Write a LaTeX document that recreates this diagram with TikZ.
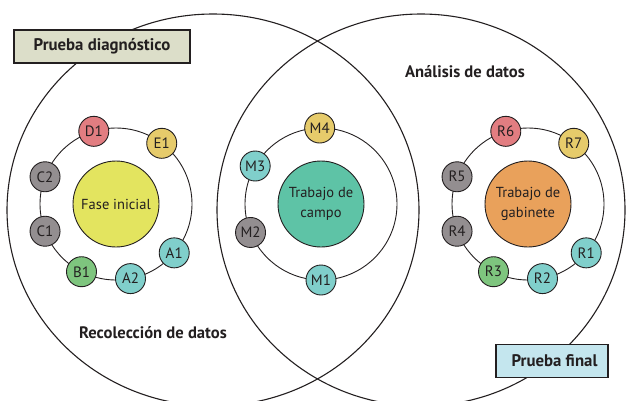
\documentclass[tikz,border=0pt]{standalone}
\usepackage{fontspec}
\setmainfont{PT Sans}
\usetikzlibrary{calc}
\definecolor{inkgray}{HTML}{231F20}
\definecolor{tagsage}{HTML}{DCDEC9}
\definecolor{tagsky}{HTML}{C4E6EE}
\definecolor{fillyellow}{HTML}{E3E45F}
\definecolor{fillteal}{HTML}{5EC3A6}
\definecolor{fillorange}{HTML}{E9A15B}
\definecolor{dotred}{HTML}{E27D81}
\definecolor{dotgold}{HTML}{E6CB6B}
\definecolor{dotgray}{HTML}{938E90}
\definecolor{dotgreen}{HTML}{7EC57E}
\definecolor{dotaqua}{HTML}{80CFCB}

\begin{document}
\begin{tikzpicture}[
    x=1pt, y=-1pt,
    every node/.style={text=inkgray},
    big_ring/.style={draw=inkgray, line width=1.1pt},
    orbit/.style={draw=inkgray, line width=0.9pt},
    stage/.style={circle, draw=inkgray, line width=0.9pt, minimum size=86pt, inner sep=0pt, align=center, font=\fontsize{14.5}{20}\selectfont},
    item/.style={circle, draw=inkgray, line width=0.9pt, minimum size=30pt, inner sep=0pt, font=\fontsize{15}{15}\selectfont},
    tag/.style={draw=inkgray, line width=1.3pt, inner sep=0pt, minimum height=33pt, font=\bfseries\fontsize{16.8}{17}\selectfont},
    title/.style={font=\bfseries\fontsize{16.6}{17}\selectfont}
]
\useasboundingbox (0,0) rectangle (626,400);

% the two overlapping phases
\draw[big_ring] (213,210) ellipse [x radius=206pt, y radius=196pt];
\draw[big_ring] (421,210) ellipse [x radius=204pt, y radius=196pt];

\coordinate (orbit_left) at (116,204);
\coordinate (orbit_mid) at (321,204);
\coordinate (orbit_right) at (528,204);
\draw[orbit] (orbit_left) circle (76pt);
\draw[orbit] (orbit_mid) circle (76pt);
\draw[orbit] (orbit_right) circle (76pt);

\node (fase_inicial) [stage, fill=fillyellow] at (orbit_left) {Fase inicial};
\node (trabajo_campo) [stage, fill=fillteal] at (orbit_mid) {Trabajo de\\campo};
\node (trabajo_gabinete) [stage, fill=fillorange] at (orbit_right) {Trabajo de\\gabinete};

% left group
\node (d1) [item, fill=dotred] at ($(orbit_left)+(107:76pt)$) {D1};
\node (e1) [item, fill=dotgold] at ($(orbit_left)+(53:76pt)$) {E1};
\node (c2) [item, fill=dotgray] at ($(orbit_left)+(159:76pt)$) {C2};
\node (c1) [item, fill=dotgray] at ($(orbit_left)+(201:76pt)$) {C1};
\node (b1) [item, fill=dotgreen] at ($(orbit_left)+(243:76pt)$) {B1};
\node (a2) [item, fill=dotaqua] at ($(orbit_left)+(281:76pt)$) {A2};
\node (a1) [item, fill=dotaqua] at ($(orbit_left)+(320:76pt)$) {A1};

% middle group
\node (m4) [item, fill=dotgold] at ($(orbit_mid)+(91:76pt)$) {M4};
\node (m3) [item, fill=dotaqua] at ($(orbit_mid)+(150:76pt)$) {M3};
\node (m2) [item, fill=dotgray] at ($(orbit_mid)+(202:76pt)$) {M2};
\node (m1) [item, fill=dotaqua] at ($(orbit_mid)+(270:76pt)$) {M1};

% right group
\node (r6) [item, fill=dotred] at ($(orbit_right)+(107:76pt)$) {R6};
\node (r7) [item, fill=dotgold] at ($(orbit_right)+(53:76pt)$) {R7};
\node (r5) [item, fill=dotgray] at ($(orbit_right)+(159:76pt)$) {R5};
\node (r4) [item, fill=dotgray] at ($(orbit_right)+(201:76pt)$) {R4};
\node (r3) [item, fill=dotgreen] at ($(orbit_right)+(243:76pt)$) {R3};
\node (r2) [item, fill=dotaqua] at ($(orbit_right)+(281:76pt)$) {R2};
\node (r1) [item, fill=dotaqua] at ($(orbit_right)+(320:76pt)$) {R1};

\node (prueba_diag) [tag, fill=tagsage, minimum width=176pt] at (102,46.5) {Prueba diagnóstico};
\node (prueba_final) [tag, fill=tagsky, minimum width=112pt] at (552,361) {\hspace*{5pt}Prueba final};
\node (analisis) [title] at (465,72) {Análisis de datos};
\node (recoleccion) [title] at (153,333) {Recolección de datos};
\end{tikzpicture}
\end{document}
